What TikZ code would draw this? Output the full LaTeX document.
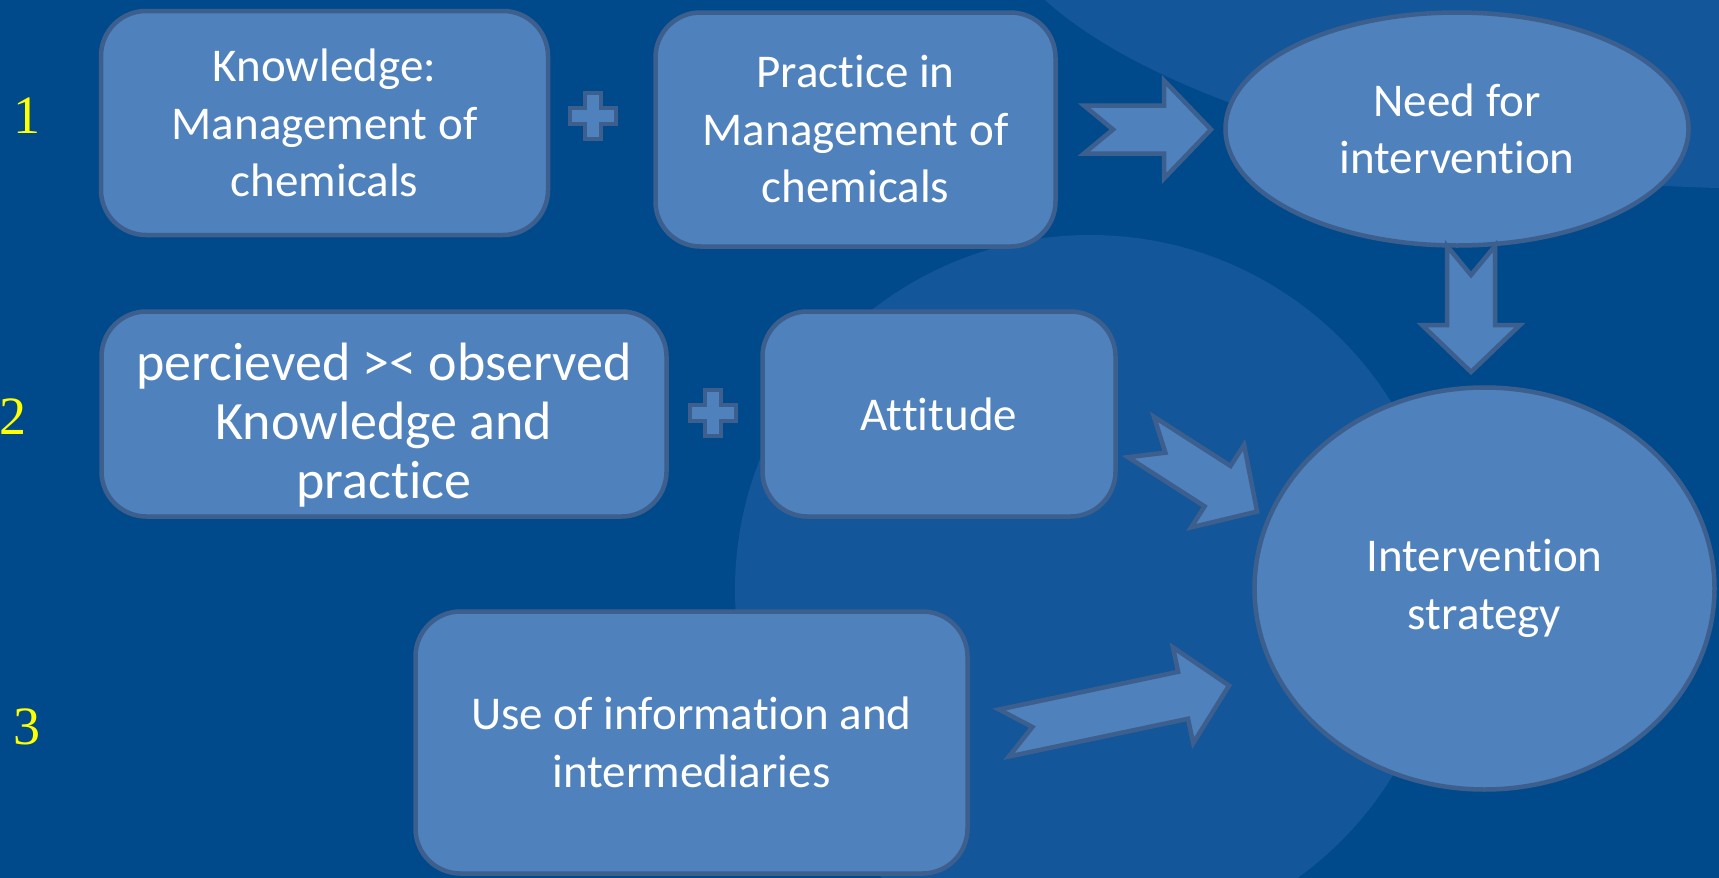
\documentclass[tikz,border=0pt]{standalone}
\usepackage{fontspec}
\setmainfont{Carlito}[Ligatures=NoCommon]
\newfontfamily\numfont{Liberation Serif}
\usetikzlibrary{shapes.geometric}

\definecolor{slidebg}{HTML}{004A8C}
\definecolor{slidelight}{HTML}{13569A}
\definecolor{boxblue}{HTML}{4F81BD}
\definecolor{edgeblue}{HTML}{3D5F8E}
\definecolor{numyellow}{HTML}{FFFF00}

\begin{document}
\begin{tikzpicture}[x=1pt,y=-1pt]
  \tikzset{
    stepbox/.style={
      rectangle,
      rounded corners=45pt,
      draw=edgeblue,
      fill=boxblue,
      line width=4.5pt,
      inner sep=0pt,
      text=white,
      align=center,
      font=\fontsize{47}{57.5}\selectfont
    },
    goal/.style={
      stepbox,
      ellipse,
      rounded corners=0pt
    },
    num/.style={
      text=numyellow,
      font=\numfont\fontsize{54}{54}\selectfont
    },
    arrowline/.style={
      draw=edgeblue,
      fill=boxblue,
      line width=4.5pt,
      line join=miter
    },
    pics/fatarrow/.style={
      code={
        \draw[arrowline] (0,-24) -- (#1-47,-24) -- (#1-47,-49) -- (#1,0)
          -- (#1-47,49) -- (#1-47,24) -- (0,24) -- (29,0) -- cycle;
      }
    },
    pics/plussign/.style={
      code={
        \draw[arrowline, line width=3.5pt] (-8,-23) -- (8,-23) -- (8,-8) -- (23,-8)
          -- (23,8) -- (8,8) -- (8,23) -- (-8,23) -- (-8,8) -- (-23,8)
          -- (-23,-8) -- (-8,-8) -- cycle;
      }
    }
  }

  % slide background
  \useasboundingbox[fill=slidebg] (0,0) rectangle (1719,878);
  \fill[slidelight] (1090,590) circle[radius=355pt];
  \fill[slidelight] (1045,0) .. controls (1150,95) and (1400,180) .. (1719,188)
    -- (1719,0) -- cycle;

  % row numbers
  \node[num] (n1) at (27,116) {1};
  \node[num] (n2) at (13,417) {2};
  \node[num] (n3) at (27,727) {3};

  % row 1
  \node[stepbox, minimum width=447pt, minimum height=224pt] (know) at (324.5,123)
    {Knowledge:\\Management of\\chemicals};
  \node[stepbox, minimum width=400pt, minimum height=234pt] (prac) at (855.5,129.5)
    {Practice in\\Management of\\chemicals};
  \node[goal, minimum width=463pt, minimum height=233pt] (need) at (1457,129)
    {Need for\\intervention};

  % row 2
  \node[stepbox, minimum width=565pt, minimum height=205pt,
    font=\fontsize{54}{59}\selectfont] (perc) at (384,414)
    {\\[-59pt]\rule{0pt}{16pt}\\percieved >< observed\\Knowledge and\\practice};
  \node[stepbox, minimum width=353pt, minimum height=205pt] (atti) at (939,414)
    {Attitude};

  % row 3
  \node[stepbox, minimum width=552pt, minimum height=262pt] (info) at (691.5,742.5)
    {Use of information and\\intermediaries};

  \node[goal, minimum width=460pt, minimum height=402pt] (strat) at (1484.5,588.5)
    {Intervention\\strategy};

  % plus signs
  \pic at (593,116) {plussign};
  \pic at (713,413) {plussign};

  % block arrows
  \coordinate (t1) at (1084,129.5);
  \coordinate (t2) at (1471,246);
  \coordinate (t3) at (1141,437);
  \coordinate (t4) at (1004,733);
  \pic at (t1) {fatarrow=127};
  \pic[rotate=-90] at (t2) {fatarrow=126};
  \pic[rotate=-32.7] at (t3) {fatarrow=138};
  \pic[rotate=11.9] at (t4) {fatarrow=230};
\end{tikzpicture}
\end{document}
